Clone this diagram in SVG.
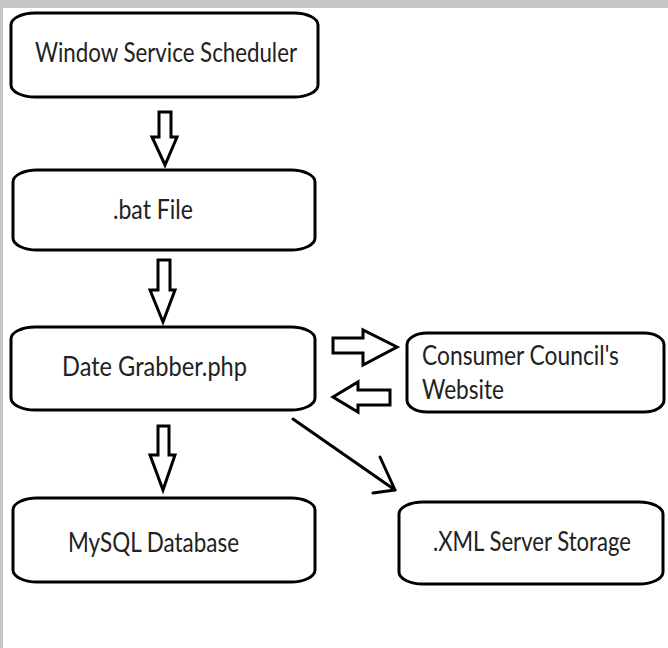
<svg xmlns="http://www.w3.org/2000/svg" width="668" height="648" viewBox="0 0 668 648">
<style>
.box{fill:#fff;stroke:#000;stroke-width:3}
.lbl{font-family:Lato,"Open Sans","Liberation Sans",sans-serif;font-size:26px;fill:#222}
.blk{fill:#fff;stroke:#000;stroke-width:3;stroke-linejoin:miter}
.ln{fill:none;stroke:#000;stroke-width:3;stroke-linecap:round;stroke-linejoin:round}
</style>
<rect x="0" y="0" width="668" height="648" fill="#fff"/>
<rect x="0" y="0" width="668" height="8" fill="#c6c6c6"/>
<rect x="0" y="0" width="3" height="648" fill="#c6c6c6"/>
<g id="scheduler">
<rect class="box" x="11" y="13" width="307" height="84" rx="24" ry="12"/>
<text class="lbl" x="35" y="62" textLength="262" lengthAdjust="spacingAndGlyphs">Window Service Scheduler</text>
</g>
<g id="batfile">
<rect class="box" x="13" y="170" width="302" height="80" rx="24" ry="12"/>
<text class="lbl" x="113" y="219" textLength="80" lengthAdjust="spacingAndGlyphs">.bat File</text>
</g>
<g id="grabber">
<rect class="box" x="11" y="327" width="304" height="83" rx="24" ry="12"/>
<text class="lbl" x="62" y="376" textLength="185" lengthAdjust="spacingAndGlyphs">Date Grabber.php</text>
</g>
<g id="website">
<rect class="box" x="407" y="333" width="257" height="79" rx="20" ry="12"/>
<text class="lbl" x="422" y="365" textLength="197" lengthAdjust="spacingAndGlyphs">Consumer Council's</text>
<text class="lbl" x="422" y="399" textLength="82" lengthAdjust="spacingAndGlyphs">Website</text>
</g>
<g id="mysql">
<rect class="box" x="13" y="498" width="302" height="84" rx="24" ry="12"/>
<text class="lbl" x="68" y="552" textLength="171" lengthAdjust="spacingAndGlyphs">MySQL Database</text>
</g>
<g id="xml">
<rect class="box" x="399" y="502" width="264" height="82" rx="24" ry="12"/>
<text class="lbl" x="433" y="551" textLength="198" lengthAdjust="spacingAndGlyphs">.XML Server Storage</text>
</g>
<g id="connectors">
<polygon class="blk" points="159,112 171,112 171,137 177,137 165,165 152,137 159,137"/>
<polygon class="blk" points="158,260 170,260 170,290 175,290 163,322 150,290 158,290"/>
<polygon class="blk" points="158,426 169,426 169,455 175,455 163,490 150,455 158,455"/>
<polygon class="blk" points="333,338 363,338 363,330 397,347 363,365 363,353 333,353"/>
<polygon class="blk" points="390,390 358,390 358,382 333,397 358,412 358,405 390,405"/>
<line class="ln" x1="293" y1="419" x2="395" y2="490"/>
<polyline class="ln" points="380,457 395,490 373,493"/>
</g>
</svg>
